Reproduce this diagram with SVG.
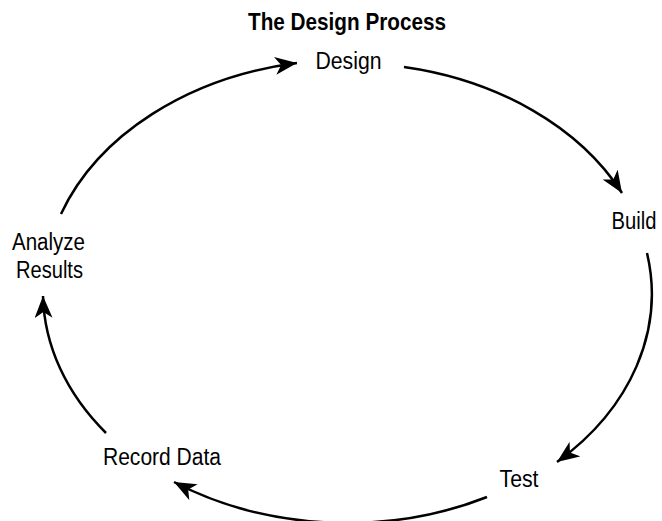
<svg xmlns="http://www.w3.org/2000/svg" width="662" height="521" viewBox="0 0 662 521">
<style>
.lbl{font-family:"Liberation Sans",Arial,sans-serif;font-size:23px;fill:#000;text-anchor:middle}
.title{font-weight:bold;font-size:24px}
.arc{fill:none;stroke:#000;stroke-width:2.5;marker-end:url(#ah)}
</style>
<defs>
<marker id="ah" markerUnits="userSpaceOnUse" markerWidth="24" markerHeight="18" refX="22" refY="9" orient="auto" viewBox="0 0 24 18">
<path d="M0,0 L22,9 L0,18 L6,9 z" fill="#000"/>
</marker>
</defs>
<rect width="662" height="521" fill="#fff"/>
<text class="lbl title" x="347" y="30" textLength="198" lengthAdjust="spacingAndGlyphs">The Design Process</text>
<g id="connectors">
<path class="arc" d="M61,214 A305,232 0 0 1 297,63"/>
<path class="arc" d="M404,67 A305,232 0 0 1 622,193"/>
<path class="arc" d="M647,253 A305,232 0 0 1 557,462"/>
<path class="arc" d="M487,497 A305,232 0 0 1 174,482"/>
<path class="arc" d="M106,433 A305,232 0 0 1 43,296"/>
</g>
<g id="design"><text class="lbl" x="348.5" y="69" textLength="66" lengthAdjust="spacingAndGlyphs">Design</text></g>
<g id="build"><text class="lbl" x="634" y="229" textLength="45" lengthAdjust="spacingAndGlyphs">Build</text></g>
<g id="test"><text class="lbl" x="519" y="487" textLength="39" lengthAdjust="spacingAndGlyphs">Test</text></g>
<g id="record"><text class="lbl" x="162" y="465" textLength="118" lengthAdjust="spacingAndGlyphs">Record Data</text></g>
<g id="analyze"><text class="lbl" x="48.5" y="250" textLength="73" lengthAdjust="spacingAndGlyphs">Analyze</text><text class="lbl" x="49.5" y="278" textLength="67" lengthAdjust="spacingAndGlyphs">Results</text></g>
</svg>
